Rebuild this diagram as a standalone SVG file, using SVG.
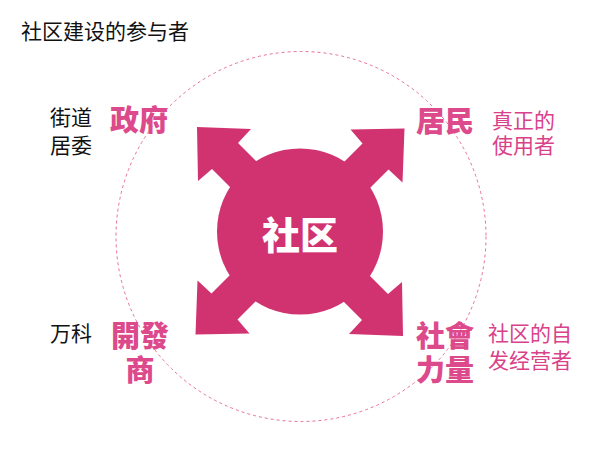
<svg xmlns="http://www.w3.org/2000/svg" width="600" height="464" viewBox="0 0 600 464">
<style>
text{font-family:"Noto Sans CJK SC","Noto Sans CJK TC",sans-serif}
.title{font-size:21px;fill:#111}
.side{font-size:21px;fill:#111}
.pinkside{font-size:21px;fill:#D9418A}
.big{font-size:29px;font-weight:900;fill:#DC4A8C}
.center{font-size:38px;font-weight:900;fill:#fff}
.arrow{fill:#D13371}
</style>
<defs>
<polygon id="arr" points="197,127 251,129 238,143 308,213 282,239 212,169 198,181"/>
</defs>
<rect width="600" height="464" fill="#fff"/>
<text class="title" x="21" y="39">社区建设的参与者</text>
<circle cx="301" cy="236.5" r="185" fill="none" stroke="#E8709F" stroke-width="1" stroke-dasharray="3 3"/>
<g id="connectors" class="arrow">
<use href="#arr"/>
<use href="#arr" transform="rotate(90 300 231.5)"/>
<use href="#arr" transform="rotate(180 300 231.5)"/>
<use href="#arr" transform="rotate(270 300 231.5)"/>
</g>
<g id="node-center">
<circle cx="300" cy="231.5" r="83" fill="#D13371"/>
<text class="center" x="300" y="249" text-anchor="middle">社区</text>
</g>
<g id="node-gov">
<text class="big" x="139" y="131" text-anchor="middle">政府</text>
<text class="side" x="50" y="125">街道</text>
<text class="side" x="50" y="153">居委</text>
</g>
<g id="node-resident">
<text class="big" x="445" y="132" text-anchor="middle">居民</text>
<text class="pinkside" x="492" y="128">真正的</text>
<text class="pinkside" x="492" y="153">使用者</text>
</g>
<g id="node-developer">
<text class="big" x="140" y="347" text-anchor="middle">開發</text>
<text class="big" x="140" y="381" text-anchor="middle">商</text>
<text class="side" x="50" y="341">万科</text>
</g>
<g id="node-social">
<text class="big" x="445" y="347" text-anchor="middle">社會</text>
<text class="big" x="445" y="381" text-anchor="middle">力量</text>
<text class="pinkside" x="488" y="341">社区的自</text>
<text class="pinkside" x="488" y="368">发经营者</text>
</g>
</svg>
